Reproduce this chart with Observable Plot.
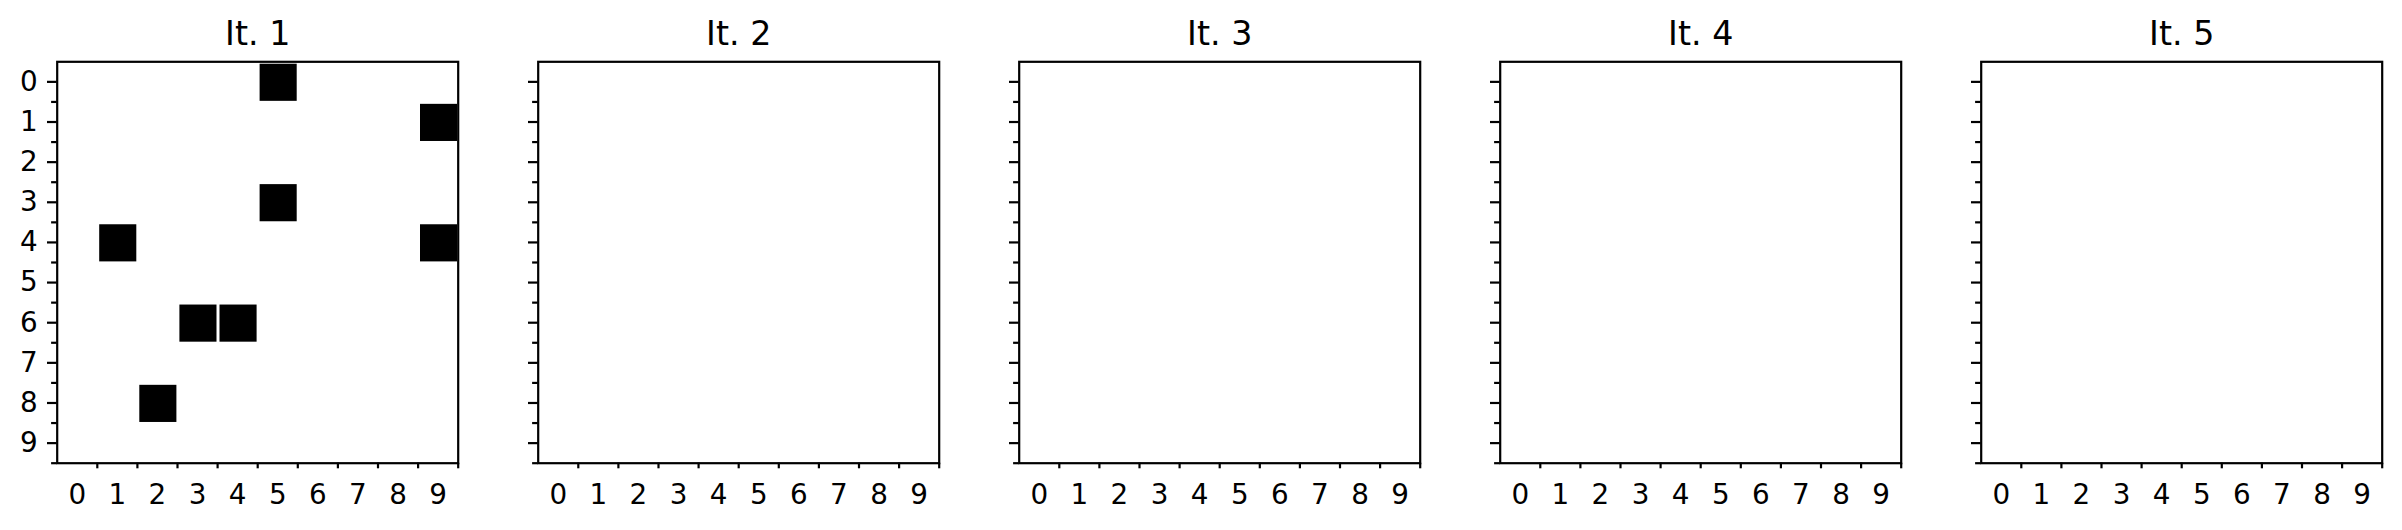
<!DOCTYPE html>
<html>
<head>
<meta charset="utf-8">
<script src="https://cdn.jsdelivr.net/npm/d3@7"></script>
<script src="https://cdn.jsdelivr.net/npm/@observablehq/plot@0.6"></script>
<style>
  html, body { margin: 0; padding: 0; background: #fff; overflow: hidden; }
  #chart { position: relative; width: 2402px; height: 530px; }
  #chart > svg { position: absolute; top: 0; }
</style>
</head>
<body>
<div id="chart"></div>
<script>
// ---- data ----
const iterations = ["It. 1", "It. 2", "It. 3", "It. 4", "It. 5"];
// filled (black) cells: which iteration, column, row
const cellIteration = [1, 1, 1, 1, 1, 1, 1, 1];
const cellCol       = [5, 9, 5, 1, 9, 3, 4, 2];
const cellRow       = [0, 1, 3, 4, 4, 6, 6, 8];
// axis ticks
const majorTicks = [0, 1, 2, 3, 4, 5, 6, 7, 8, 9];
const minorTicks = [0.5, 1.5, 2.5, 3.5, 4.5, 5.5, 6.5, 7.5, 8.5, 9.5];
const tickLabels = ["0", "1", "2", "3", "4", "5", "6", "7", "8", "9"];
const gridDomain = [-0.5, 9.5];

const cells = cellCol.map((c, i) => ({iter: cellIteration[i], col: c, row: cellRow[i]}));

const container = document.getElementById("chart");
const step = 481, mL = 56.7, panelW = 401, mT = 61.3, panelH = 401.4;
const lw = 2.2, tickFont = 27.8, titleFont = 33.3;

iterations.forEach((title, i) => {
  const w = i < iterations.length - 1 ? step : 2402 - step * i;
  const data = cells.filter(d => d.iter === i + 1);
  const plot = Plot.plot({
    width: w,
    height: 530,
    marginLeft: mL,
    marginRight: w - mL - panelW,
    marginTop: mT,
    marginBottom: 530 - mT - panelH,
    style: {fontFamily: "DejaVu Sans", fontSize: tickFont + "px", color: "black", background: "white", overflow: "visible"},
    x: {domain: gridDomain, label: null},
    y: {domain: gridDomain, reverse: true, label: null},
    marks: [
      Plot.rect(data, {
        x1: d => d.col - 0.5, x2: d => d.col + 0.5,
        y1: d => d.row - 0.5, y2: d => d.row + 0.5,
        fill: "black",
        insetLeft: 2.4, insetRight: 0.6, insetTop: 2.4, insetBottom: 0.6
      }),
      Plot.frame({stroke: "black", strokeWidth: lw}),
      // y major ticks (+ labels on first panel)
      Plot.axisY({
        ticks: majorTicks, tickSize: 9.7, tickPadding: 9.7, strokeWidth: lw,
        tickFormat: i === 0 ? (d => tickLabels[majorTicks.indexOf(d)]) : () => "",
        fontSize: tickFont, label: null
      }),
      // y minor ticks
      Plot.axisY({ticks: minorTicks, tickSize: 5.6, text: null, strokeWidth: lw, label: null}),
      // x minor ticks at cell boundaries
      Plot.axisX({ticks: minorTicks, tickSize: 5.6, text: null, strokeWidth: lw, label: null}),
      // x labels at cell centers, no tick lines
      Plot.axisX({
        ticks: majorTicks, tickSize: 0, tickPadding: 21.5,
        tickFormat: d => tickLabels[majorTicks.indexOf(d)],
        fontSize: tickFont, label: null
      }),
      // panel title
      Plot.text([title], {text: d => d, frameAnchor: "top", lineAnchor: "bottom", dy: -16.7, fontSize: titleFont, fill: "black"})
    ]
  });
  plot.style.left = (step * i) + "px";
  container.appendChild(plot);
});
</script>
</body>
</html>
